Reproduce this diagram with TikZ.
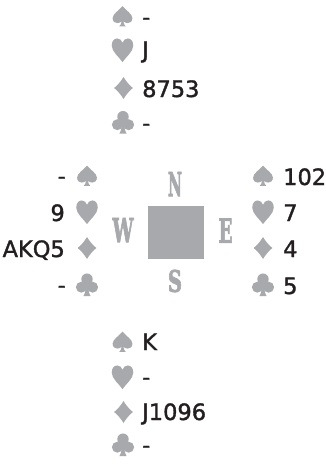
\documentclass[tikz,border=0pt]{standalone}
\usepackage{fontspec}
\setmainfont{DejaVu Sans}[FakeBold=1.5]
\newfontfamily\dirfont{DejaVu Serif}[FakeBold=3]
\newcommand\heavyglyph[1]{\special{pdf:code 2 Tr 2.2 w}#1\special{pdf:code 0 Tr 1 w}}
\definecolor{suitgray}{HTML}{A7A9AC}
\definecolor{ink}{HTML}{231F20}
\tikzset{
  spadesym/.pic={
    \fill[suitgray] (0,-9.5) .. controls (-3,-5.5) and (-9,-2.5) .. (-9,1.5)
      .. controls (-9,4.6) and (-6.8,6) .. (-4.8,6)
      .. controls (-3,6) and (-1.6,5.2) .. (-0.8,4.3)
      .. controls (-1,6.3) and (-2,8.3) .. (-3,9) -- (3,9)
      .. controls (2,8.3) and (1,6.3) .. (0.8,4.3)
      .. controls (1.6,5.2) and (3,6) .. (4.8,6)
      .. controls (6.8,6) and (9,4.6) .. (9,1.5)
      .. controls (9,-2.5) and (3,-5.5) .. (0,-9.5) -- cycle;
  },
  heartsym/.pic={
    \fill[suitgray] (0,11) .. controls (-3,6.5) and (-9.8,1.5) .. (-9.8,-4)
      .. controls (-9.8,-8.5) and (-7.2,-10.5) .. (-4.8,-10.5)
      .. controls (-2.4,-10.5) and (-0.6,-8.8) .. (0,-6.5)
      .. controls (0.6,-8.8) and (2.4,-10.5) .. (4.8,-10.5)
      .. controls (7.2,-10.5) and (9.8,-8.5) .. (9.8,-4)
      .. controls (9.8,1.5) and (3,6.5) .. (0,11) -- cycle;
  },
  diamondsym/.pic={
    \fill[suitgray] (0,-10) .. controls (2.3,-6) and (5.5,-2.5) .. (8.5,0)
      .. controls (5.5,2.5) and (2.3,6) .. (0,10)
      .. controls (-2.3,6) and (-5.5,2.5) .. (-8.5,0)
      .. controls (-5.5,-2.5) and (-2.3,-6) .. (0,-10) -- cycle;
  },
  clubsym/.pic={
    \fill[suitgray] (0,-5.3) circle[radius=5.2];
    \fill[suitgray] (-5.1,2) circle[radius=5];
    \fill[suitgray] (5.1,2) circle[radius=5];
    \fill[suitgray] (-1.8,-1.5) -- (1.8,-1.5) -- (1.1,3)
      .. controls (1.3,6) and (2.3,8.5) .. (3.2,10) -- (-3.2,10)
      .. controls (-2.3,8.5) and (-1.3,6) .. (-1.1,3) -- cycle;
  },
  suitpic/.style={scale=1.1}
}
\begin{document}
\begin{tikzpicture}[x=1pt,y=-1pt,
  card/.style={inner sep=0pt,text=ink,font=\fontsize{22.5}{22.5}\selectfont},
  dir/.style={inner sep=0pt,text=suitgray,font=\dirfont\bfseries}]
\useasboundingbox (0,0) rectangle (325,466);
% North
\pic[suitpic] (ns) at (122.5,16.5) {spadesym};
\pic[suitpic] (nh) at (122.5,50) {heartsym};
\pic[suitpic] (nd) at (123.5,88) {diamondsym};
\pic[suitpic] (nc) at (123,122.5) {clubsym};
\node[card,anchor=base west] (nst) at (142,25) {-};
\node[card,anchor=base west] (nht) at (142,58) {J};
\node[card,anchor=base west] (ndt) at (142,97) {8753};
\node[card,anchor=base west] (nct) at (142,131) {-};
% West
\pic[suitpic] (ws) at (87,176) {spadesym};
\pic[suitpic] (wh) at (87,212) {heartsym};
\pic[suitpic] (wd) at (87,248) {diamondsym};
\pic[suitpic] (wc) at (87,285) {clubsym};
\node[card,anchor=base east] (wst) at (66,184) {-};
\node[card,anchor=base east] (wht) at (65,221) {9};
\node[card,anchor=base east] (wdt) at (65,257) {AKQ5};
\node[card,anchor=base east] (wct) at (66,293) {-};
% East
\pic[suitpic] (es) at (263,176) {spadesym};
\pic[suitpic] (eh) at (263,212) {heartsym};
\pic[suitpic] (ed) at (263,248) {diamondsym};
\pic[suitpic] (ec) at (263,285) {clubsym};
\node[card,anchor=base west] (est) at (283,185) {102};
\node[card,anchor=base west] (eht) at (283,221) {7};
\node[card,anchor=base west] (edt) at (283,257) {4};
\node[card,anchor=base west] (ect) at (283,294) {5};
% South
\pic[suitpic] (ss) at (122.5,342) {spadesym};
\pic[suitpic] (sh) at (122.5,377) {heartsym};
\pic[suitpic] (sd) at (123.5,412) {diamondsym};
\pic[suitpic] (sc) at (123,445) {clubsym};
\node[card,anchor=base west] (sst) at (142,350) {K};
\node[card,anchor=base west] (sht) at (142,385) {-};
\node[card,anchor=base west] (sdt) at (142,420) {J1096};
\node[card,anchor=base west] (sct) at (142,453) {-};
% Table
\node[fill=suitgray,draw=none,minimum width=56pt,minimum height=53pt,inner sep=0pt] (table) at (176,232.5) {};
\node[dir] (N) at (175,184) {\resizebox{14pt}{24pt}{\heavyglyph{N}}};
\node[dir] (S) at (175,281) {\resizebox{14pt}{22pt}{\heavyglyph{S}}};
\node[dir] (W) at (123,230) {\resizebox{21pt}{24pt}{\heavyglyph{W}}};
\node[dir] (E) at (225.5,230.5) {\resizebox{14pt}{24pt}{\heavyglyph{E}}};
\end{tikzpicture}
\end{document}
